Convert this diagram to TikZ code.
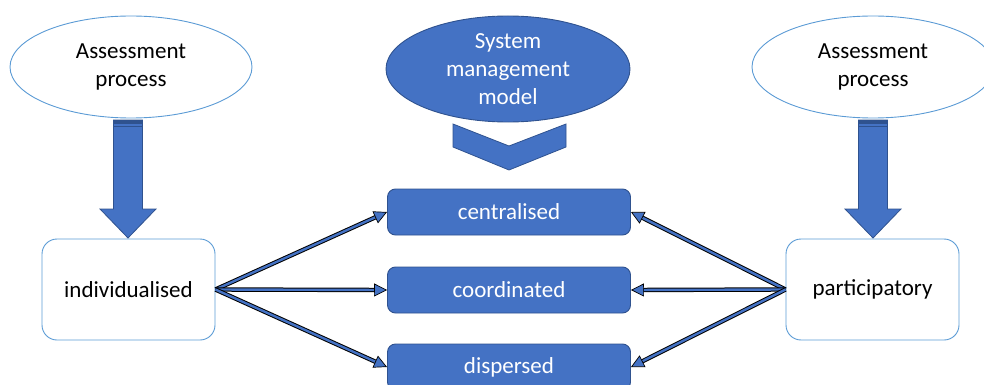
\documentclass[tikz,border=0pt]{standalone}
\usepackage{fontspec}
\setmainfont{Carlito}
\usetikzlibrary{shapes.geometric,arrows.meta,positioning,calc}

\definecolor{boxblue}{HTML}{4472C4}
\definecolor{boxedge}{HTML}{2F528F}
\definecolor{lightedge}{HTML}{5B9BD5}

\tikzset{
    basefont/.style={font=\fontsize{23}{28}\selectfont},
    process/.style={ellipse, draw=lightedge, line width=0.9pt, fill=white, basefont,
        align=center, inner sep=0pt, minimum width=242pt, minimum height=102pt},
    model/.style={process, draw=boxedge, fill=boxblue, text=white, minimum width=244pt, minimum height=106pt},
    approach/.style={rectangle, rounded corners=15pt, draw=lightedge, line width=0.9pt,
        basefont, minimum width=173pt, minimum height=101pt},
    mode/.style={rectangle, rounded corners=8pt, draw=boxedge, line width=0.9pt, fill=boxblue,
        text=white, basefont, minimum width=243pt, minimum height=46pt},
    bigarrow/.style={draw=boxedge, line width=0.8pt, fill=boxblue},
    link/.style={draw=boxblue, line width=2.4pt,
        -{Triangle[length=13pt,width=13pt,color=black,fill=boxblue,line width=0.7pt]},
        preaction={draw=black, line width=4.4pt, -, shorten >=10pt}},
}

\begin{document}
\begin{tikzpicture}[x=1pt,y=-1pt]
    \clip (0,0) rectangle (984,385);
    %Top row: the two assessment processes and the model
    %===========================================================
    \node[process] (assessL) at (131,67) {Assessment\\process};
    \node[process] (assessR) at (873,67) {Assessment\\process};
    \node[model] (sysmodel) at (508,69) {System\\management\\model};

    %Approaches on both sides
    \node[approach] (indiv) at (128.5,289.5) {individualised};
    \node[approach] (partic) at (872.5,289.5) {participatory};

    %The three management modes in the middle
    \node[mode] (central) at (509,212) {centralised};
    \node[mode] (coord) at (509,290) {coordinated};
    \node[mode] (dispers) at (509,367) {dispersed};

    %Block arrows from the assessment processes down to the approaches
    %===========================================================
    \def \ShaftW {14.5}; %half width of shaft
    \def \HeadW {28}; %half width of head
    \foreach \cx in {128,873}{
        \draw[bigarrow] (\cx-\ShaftW,120) -- (\cx+\ShaftW,120) -- (\cx+\ShaftW,209)
            -- (\cx+\HeadW,209) -- (\cx,238) -- (\cx-\HeadW,209) -- (\cx-\ShaftW,209) -- cycle;
        \fill[boxedge] (\cx-\ShaftW,120) rectangle (\cx+\ShaftW,123.5); %stripes at top
        \draw[boxedge, line width=1.2pt] (\cx-\ShaftW,126.5) -- (\cx+\ShaftW,126.5);
    }

    %Chevron below the model
    \draw[bigarrow] (453,124) -- (509,146) -- (566,124) -- (566,147) -- (509,170) -- (453,147) -- cycle;

    %Links to the modes
    %===========================================================
    \draw[link] (indiv.east) -- (central.west);
    \draw[link] (indiv.east) -- (coord.west);
    \draw[link] (indiv.east) -- (dispers.west);
    \draw[link] (partic.west) -- (central.east);
    \draw[link] (partic.west) -- (coord.east);
    \draw[link] (partic.west) -- (dispers.east);
\end{tikzpicture}
\end{document}
